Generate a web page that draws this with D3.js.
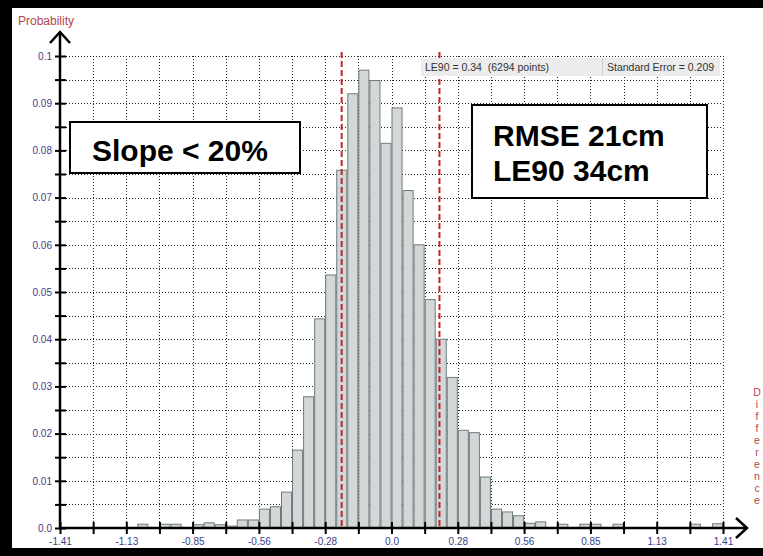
<!DOCTYPE html>
<html>
<head>
<meta charset="utf-8">
<script src="https://cdn.jsdelivr.net/npm/d3@7.9.0/dist/d3.min.js"></script>
<style>
  body { margin: 0; background: #fff; }
  svg { display: block; font-family: "Liberation Sans", Arial, sans-serif; }
</style>
</head>
<body>
<svg id="chart" width="763" height="556"></svg>
<script>
// histogram of height differences, 60 bins of 0.047 from -1.41
const binStartValue = -1.41;
const binWidth = 0.047;
const probability = [
  0, 0, 0, 0, 0, 0, 0, 0.0008, 0, 0.0008,
  0.0008, 0, 0.0007, 0.0011, 0.0007, 0.0004, 0.0017, 0.0017, 0.0040, 0.0045,
  0.0076, 0.0165, 0.0278, 0.0443, 0.0536, 0.0758, 0.0920, 0.0970, 0.0948, 0.0815,
  0.0890, 0.0715, 0.0600, 0.0484, 0.0400, 0.0319, 0.0207, 0.0202, 0.0108, 0.0040,
  0.0034, 0.0026, 0.0010, 0.0013, 0, 0.0008, 0, 0.0008, 0.0008, 0,
  0.0008, 0, 0, 0, 0, 0, 0, 0.0008, 0, 0.0009
];
const xTickLabels = ["-1.41", "-1.13", "-0.85", "-0.56", "-0.28", "0.0", "0.28", "0.56", "0.85", "1.13", "1.41"];
const yTickLabels = ["0.0", "0.01", "0.02", "0.03", "0.04", "0.05", "0.06", "0.07", "0.08", "0.09", "0.1"];
const markerLines = [-0.212, 0.204];
const infoTexts = ["LE90 = 0.34  (6294 points)", "Standard Error = 0.209"];
const slopeText = "Slope < 20%";
const accuracyTexts = ["RMSE 21cm", "LE90 34cm"];
const xAxisTitle = "Difference";
const yAxisTitle = "Probability";

const svg = d3.select('#chart');

let x = d3.scaleLinear().domain([-1.41, 1.41]).range([60, 723]);
let y = d3.scaleLinear().domain([0, 0.1]).range([528, 56]);

const labelColor = '#3d3d8a';
const titleColor = '#b4464b';

// grid (dotted)
const xMinor = d3.range(21).map(i => -1.41 + i * 0.141);
const yMinor = d3.range(1, 21).map(i => i * 0.005);

const grid = svg.append('g')
  .attr('stroke', '#222')
  .attr('stroke-width', 1)
  .attr('stroke-dasharray', '1,2');

grid.selectAll('line.h')
  .data(yMinor)
  .join('line')
  .attr('class', 'h')
  .attr('x1', x(-1.41)).attr('x2', x(1.41))
  .attr('y1', d => Math.round(y(d)) + 0.5)
  .attr('y2', d => Math.round(y(d)) + 0.5);

grid.selectAll('line.v')
  .data(xMinor.slice(1))
  .join('line')
  .attr('class', 'v')
  .attr('x1', d => Math.round(x(d)) + 0.5)
  .attr('x2', d => Math.round(x(d)) + 0.5)
  .attr('y1', y(0.1)).attr('y2', y(0));

// bars
const bins = probability.map((p, i) => {
  return { x0: binStartValue + i * binWidth, x1: binStartValue + (i + 1) * binWidth, value: p };
});

svg.append('g')
  .selectAll('rect')
  .data(bins.filter(d => d.value > 0))
  .join('rect')
  .attr('x', d => x(d.x0) + 0.5)
  .attr('width', d => x(d.x1) - x(d.x0) - 1)
  .attr('y', d => y(d.value))
  .attr('height', d => y(0) - y(d.value))
  .attr('fill', '#d3d7d7')
  .attr('stroke', '#6f7c7c')
  .attr('stroke-width', 1);

// red dashed markers
svg.append('g')
  .selectAll('line')
  .data(markerLines)
  .join('line')
  .attr('x1', d => x(d)).attr('x2', d => x(d))
  .attr('y1', 52).attr('y2', y(0))
  .attr('stroke', '#c4232b')
  .attr('stroke-width', 2)
  .attr('stroke-dasharray', '6,3');

// info bar at the top
const info = svg.append('g');
info.append('rect')
  .attr('x', 421).attr('y', 58)
  .attr('width', 299).attr('height', 18)
  .attr('fill', '#ececec');
info.append('line')
  .attr('x1', 602.5).attr('x2', 602.5)
  .attr('y1', 58).attr('y2', 76)
  .attr('stroke', '#cfcfcf');
info.selectAll('text')
  .data(infoTexts)
  .join('text')
  .attr('x', (d, i) => i === 0 ? 425 : 607)
  .attr('y', 71)
  .attr('font-size', 10.5)
  .attr('fill', '#333')
  .style('white-space', 'pre')
  .text(d => d);

// annotation boxes
svg.append('rect')
  .attr('x', 70).attr('y', 122)
  .attr('width', 230).attr('height', 51)
  .attr('fill', '#fff')
  .attr('stroke', '#000')
  .attr('stroke-width', 2);
svg.append('text')
  .attr('x', 92).attr('y', 161)
  .attr('font-size', 30)
  .attr('font-weight', 'bold')
  .text(slopeText);

svg.append('rect')
  .attr('x', 472).attr('y', 105)
  .attr('width', 235).attr('height', 93)
  .attr('fill', '#fff')
  .attr('stroke', '#000')
  .attr('stroke-width', 2);
svg.selectAll('text.acc')
  .data(accuracyTexts)
  .join('text')
  .attr('class', 'acc')
  .attr('x', 493)
  .attr('y', (d, i) => 146 + i * 35)
  .attr('font-size', 30)
  .attr('font-weight', 'bold')
  .text(d => d);

// y axis
const yAxis = d3.axisLeft(y)
  .tickValues(d3.range(0, 21).map(i => i * 0.005))
  .tickSize(5)
  .tickPadding(3)
  .tickFormat((d, i) => i % 2 === 0 ? yTickLabels[i / 2] : '');

const gy = svg.append('g')
  .attr('transform', 'translate(60,0)')
  .call(yAxis);
gy.select('.domain').remove();
gy.selectAll('.tick line')
  .attr('x1', 6).attr('x2', -5)
  .attr('stroke', '#000').attr('stroke-width', 2);
gy.selectAll('.tick text')
  .attr('fill', labelColor)
  .attr('font-family', '"Liberation Sans", Arial, sans-serif')
  .attr('font-size', 10);

// x axis
const xAxis = d3.axisBottom(x)
  .tickValues(xMinor)
  .tickSize(6)
  .tickPadding(4)
  .tickFormat((d, i) => i % 2 === 0 ? xTickLabels[i / 2] : '');

const gx = svg.append('g')
  .attr('transform', `translate(0,${y(0)})`)
  .call(xAxis);
gx.select('.domain').remove();
gx.selectAll('.tick line')
  .attr('y1', -6).attr('y2', 6)
  .attr('stroke', '#000').attr('stroke-width', 2);
gx.selectAll('.tick text')
  .attr('fill', labelColor)
  .attr('font-family', '"Liberation Sans", Arial, sans-serif')
  .attr('font-size', 10);

// axis lines with open arrows
const axes = svg.append('g')
  .attr('stroke', '#000')
  .attr('stroke-width', 2.5)
  .attr('fill', 'none');
axes.append('line')
  .attr('x1', x(-1.41)).attr('x2', x(-1.41))
  .attr('y1', y(0) + 1).attr('y2', 32);
axes.append('polyline')
  .attr('points', `${x(-1.41) - 10},43 ${x(-1.41)},32 ${x(-1.41) + 10},43`);
axes.append('line')
  .attr('x1', x(-1.41) - 1).attr('x2', 746)
  .attr('y1', y(0)).attr('y2', y(0));
axes.append('polyline')
  .attr('points', `736,${y(0) - 10} 747,${y(0)} 736,${y(0) + 10}`);

// axis titles
svg.append('text')
  .attr('x', 18).attr('y', 25)
  .attr('font-size', 12)
  .attr('fill', titleColor)
  .text(yAxisTitle);

// stacked letters, one vertical text
svg.append('text')
  .attr('x', 757)
  .attr('y', 386)
  .attr('font-size', 10.5)
  .attr('fill', titleColor)
  .style('writing-mode', 'vertical-rl')
  .style('text-orientation', 'upright')
  .text(xAxisTitle);

// black frame from the screenshot
svg.append('rect').attr('x', 0).attr('y', 0).attr('width', 763).attr('height', 8).attr('fill', '#000');
svg.append('rect').attr('x', 0).attr('y', 0).attr('width', 12).attr('height', 556).attr('fill', '#000');
svg.append('rect').attr('x', 0).attr('y', 548).attr('width', 763).attr('height', 8).attr('fill', '#000');
</script>
</body>
</html>
